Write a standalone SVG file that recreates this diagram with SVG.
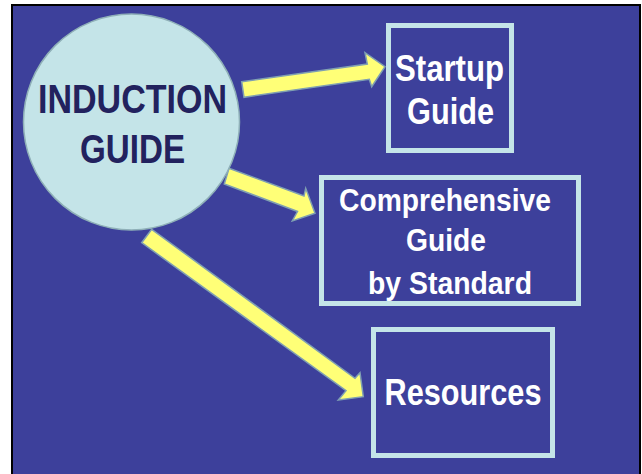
<svg xmlns="http://www.w3.org/2000/svg" width="642" height="474" viewBox="0 0 642 474">
<style>
.box{fill:#3d409b;stroke:#c4e4e8;stroke-width:5}
.arrow{fill:#ffff77;stroke:#7f9fb2;stroke-width:1.5;stroke-linejoin:miter}
.t{font-family:"Liberation Sans",Arial,sans-serif;font-weight:bold;fill:#ffffff;text-anchor:middle}
.c{font-family:"Liberation Sans",Arial,sans-serif;font-weight:bold;fill:#22225e;text-anchor:middle}
</style>
<rect x="0" y="0" width="642" height="474" fill="#ffffff"/>
<rect x="12" y="5" width="628" height="472" fill="#3d409b" stroke="#000000" stroke-width="2"/>
<g id="connectors">
<polygon class="arrow" points="241.7,81.7 367.3,64 365,52.7 385,66.7 371.7,86.7 369.3,79.3 244,97.3"/>
<polygon class="arrow" points="229,168.3 304,196 305.7,188.3 315,213.3 292.3,221 297.5,211.5 224.3,184"/>
<polygon class="arrow" points="151.7,229.3 355,378.3 360,372.7 363.3,396.7 338.3,400 346,390.7 141.7,242.7"/>
</g>
<g id="induction">
<circle cx="131.5" cy="122" r="108" fill="#c4e4e8" stroke="#8fb0b8" stroke-width="1.5"/>
<text class="c" x="132.5" y="112.7" font-size="41" textLength="189" lengthAdjust="spacingAndGlyphs">INDUCTION</text>
<text class="c" x="132.5" y="162.7" font-size="41" textLength="105" lengthAdjust="spacingAndGlyphs">GUIDE</text>
</g>
<g id="startup">
<rect class="box" x="388.5" y="25.5" width="123" height="125"/>
<text class="t" x="449.5" y="81" font-size="37" textLength="109" lengthAdjust="spacingAndGlyphs">Startup</text>
<text class="t" x="450.5" y="124" font-size="37" textLength="87" lengthAdjust="spacingAndGlyphs">Guide</text>
</g>
<g id="comprehensive">
<rect class="box" x="321.5" y="177.5" width="257" height="126"/>
<text class="t" x="445" y="211" font-size="32" textLength="212" lengthAdjust="spacingAndGlyphs">Comprehensive</text>
<text class="t" x="446" y="250.7" font-size="32" textLength="80" lengthAdjust="spacingAndGlyphs">Guide</text>
<text class="t" x="450" y="294" font-size="32" textLength="164" lengthAdjust="spacingAndGlyphs">by Standard</text>
</g>
<g id="resources">
<rect class="box" x="373.5" y="329.5" width="179" height="126"/>
<text class="t" x="463" y="405" font-size="36" textLength="157" lengthAdjust="spacingAndGlyphs">Resources</text>
</g>
</svg>
